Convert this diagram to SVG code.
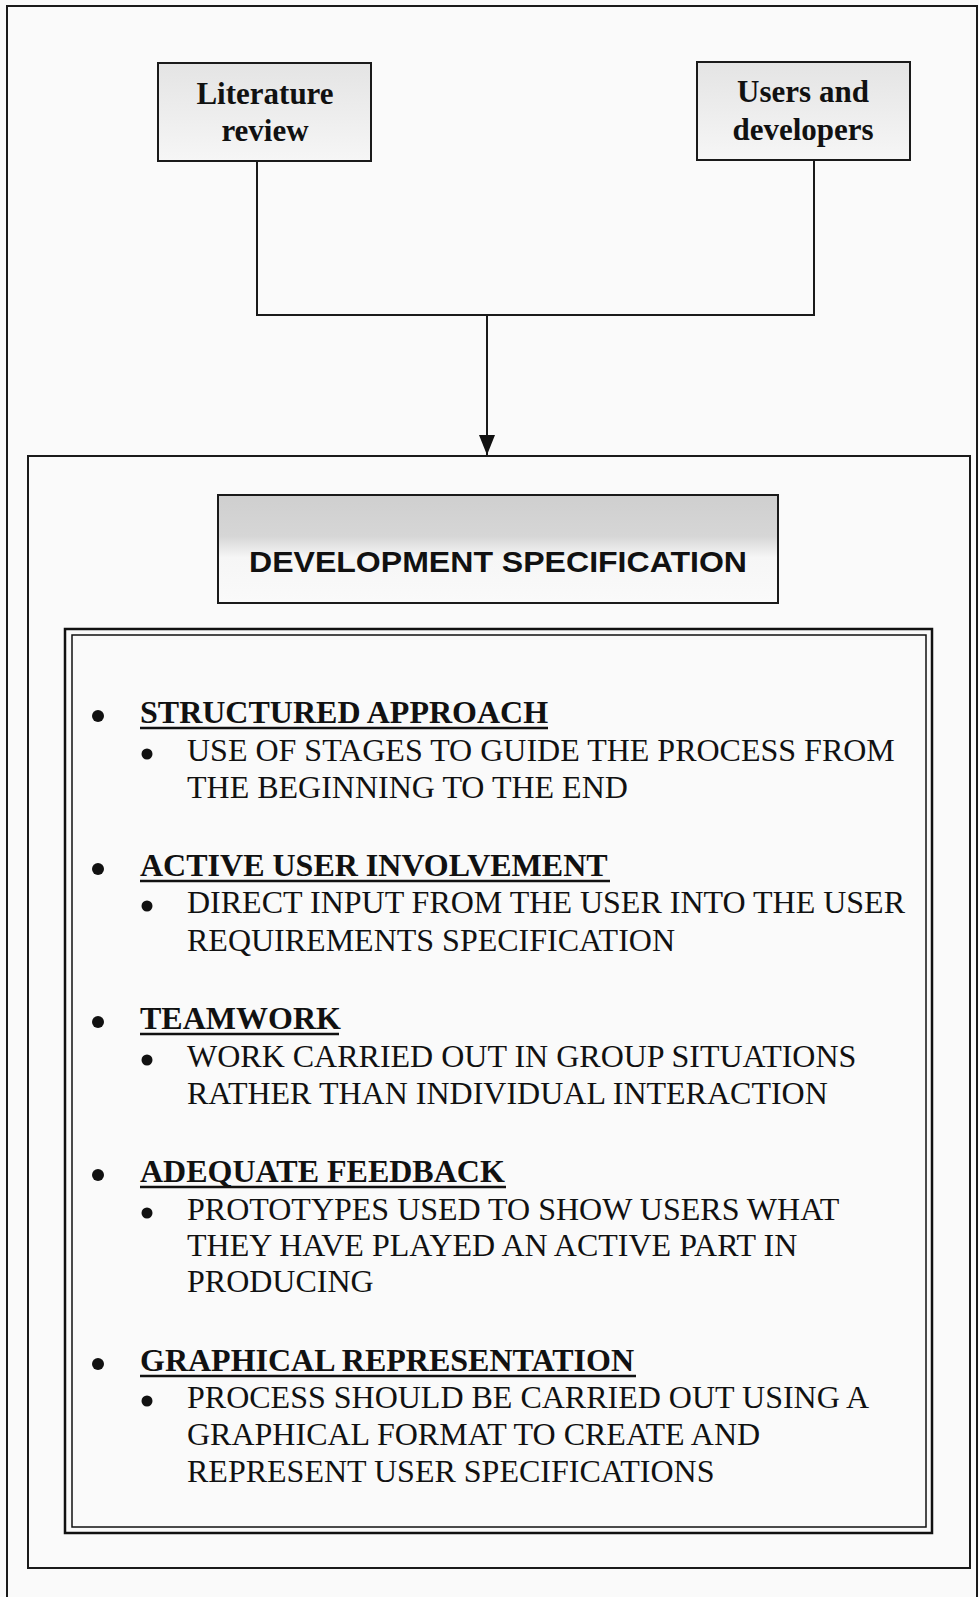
<svg xmlns="http://www.w3.org/2000/svg" width="979" height="1597" viewBox="0 0 979 1597">
  <defs>
    <linearGradient id="srcFill" x1="0" y1="0" x2="0" y2="1">
      <stop offset="0" stop-color="#e4e4e4"/>
      <stop offset="0.45" stop-color="#ececec"/>
      <stop offset="1" stop-color="#f6f6f6"/>
    </linearGradient>
    <linearGradient id="titleFill" x1="0" y1="0" x2="0" y2="1">
      <stop offset="0" stop-color="#cfcfcf"/>
      <stop offset="0.38" stop-color="#d6d6d6"/>
      <stop offset="0.58" stop-color="#f6f6f6"/>
      <stop offset="1" stop-color="#fafafa"/>
    </linearGradient>
    <marker id="arrow" viewBox="0 0 20 16" refX="20" refY="8" markerWidth="20" markerHeight="16" markerUnits="userSpaceOnUse" orient="auto">
      <path d="M0,0 L20,8 L0,16 Z" fill="#111"/>
    </marker>
  </defs>
  <style>
    .frame { fill: none; stroke: #1a1a1a; stroke-width: 2; }
    .box { stroke: #1a1a1a; stroke-width: 2; }
    .wire { fill: none; stroke: #1a1a1a; stroke-width: 2; }
    .src { font-family: "Liberation Serif", "Times New Roman", serif; font-weight: bold; font-size: 31px; fill: #111; text-anchor: middle; }
    .title { font-family: "Liberation Sans", Arial, sans-serif; font-weight: bold; font-size: 30px; fill: #111; text-anchor: middle; }
    .head { font-family: "Liberation Serif", "Times New Roman", serif; font-weight: bold; font-size: 32px; fill: #111; }
    .item { font-family: "Liberation Serif", "Times New Roman", serif; font-size: 32px; fill: #111; }
    .dot { fill: #111; }
    .ul { stroke: #111; stroke-width: 2.5; }
  </style>

  <!-- page background and outer frame -->
  <rect x="0" y="0" width="979" height="1597" fill="#fafafa"/>
  <rect class="frame" x="7" y="6" width="970" height="1600"/>

  <!-- source nodes -->
  <g id="literature-review">
    <rect class="box" x="158" y="63" width="213" height="98" fill="url(#srcFill)"/>
    <text class="src" x="265" y="104">Literature</text>
    <text class="src" x="265" y="141">review</text>
  </g>

  <g id="users-and-developers">
    <rect class="box" x="697" y="62" width="213" height="98" fill="url(#srcFill)"/>
    <text class="src" x="803" y="102">Users and</text>
    <text class="src" x="803" y="140">developers</text>
  </g>

  <!-- connectors -->
  <g id="connectors">
    <path class="wire" d="M257,161 V315 H814 V160"/>
    <path class="wire" d="M487,315 V455" marker-end="url(#arrow)"/>
  </g>

  <!-- development specification container -->
  <g id="development-specification">
    <rect class="frame" x="28" y="456" width="942" height="1112"/>
    <g id="spec-title">
      <rect class="box" x="218" y="495" width="560" height="108" fill="url(#titleFill)"/>
      <text class="title" x="498" y="572" textLength="498" lengthAdjust="spacingAndGlyphs">DEVELOPMENT SPECIFICATION</text>
    </g>

    <g id="spec-list">
      <!-- double border -->
      <rect x="65" y="629" width="867" height="904" fill="none" stroke="#111" stroke-width="2.5"/>
      <rect x="72" y="635" width="854" height="892" fill="none" stroke="#111" stroke-width="1.5"/>

      <!-- structured approach -->
      <g id="item-structured">
        <circle class="dot" cx="98" cy="716" r="6"/>
        <text class="head" x="140" y="723">STRUCTURED APPROACH</text>
        <line class="ul" x1="140" y1="728" x2="548" y2="728"/>
        <circle class="dot" cx="147" cy="754" r="5.5"/>
        <text class="item" x="187" y="761">USE OF STAGES TO GUIDE THE PROCESS FROM</text>
        <text class="item" x="187" y="798">THE BEGINNING TO THE END</text>
      </g>

      <!-- active user involvement -->
      <g id="item-involvement">
        <circle class="dot" cx="98" cy="869" r="6"/>
        <text class="head" x="140" y="876">ACTIVE USER INVOLVEMENT</text>
        <line class="ul" x1="140" y1="881" x2="610" y2="881"/>
        <circle class="dot" cx="147" cy="906" r="5.5"/>
        <text class="item" x="187" y="913">DIRECT INPUT FROM THE USER INTO THE USER</text>
        <text class="item" x="187" y="951">REQUIREMENTS SPECIFICATION</text>
      </g>

      <!-- teamwork -->
      <g id="item-teamwork">
        <circle class="dot" cx="98" cy="1022" r="6"/>
        <text class="head" x="140" y="1029">TEAMWORK</text>
        <line class="ul" x1="140" y1="1034" x2="339" y2="1034"/>
        <circle class="dot" cx="147" cy="1060" r="5.5"/>
        <text class="item" x="187" y="1067">WORK CARRIED OUT IN GROUP SITUATIONS</text>
        <text class="item" x="187" y="1104">RATHER THAN INDIVIDUAL INTERACTION</text>
      </g>

      <!-- adequate feedback -->
      <g id="item-feedback">
        <circle class="dot" cx="98" cy="1175" r="6"/>
        <text class="head" x="140" y="1182">ADEQUATE FEEDBACK</text>
        <line class="ul" x1="140" y1="1187" x2="506" y2="1187"/>
        <circle class="dot" cx="147" cy="1213" r="5.5"/>
        <text class="item" x="187" y="1220">PROTOTYPES USED TO SHOW USERS WHAT</text>
        <text class="item" x="187" y="1256">THEY HAVE PLAYED AN ACTIVE PART IN</text>
        <text class="item" x="187" y="1292">PRODUCING</text>
      </g>

      <!-- graphical representation -->
      <g id="item-graphical">
        <circle class="dot" cx="98" cy="1364" r="6"/>
        <text class="head" x="140" y="1371">GRAPHICAL REPRESENTATION</text>
        <line class="ul" x1="140" y1="1376" x2="636" y2="1376"/>
        <circle class="dot" cx="147" cy="1401" r="5.5"/>
        <text class="item" x="187" y="1408">PROCESS SHOULD BE CARRIED OUT USING A</text>
        <text class="item" x="187" y="1445">GRAPHICAL FORMAT TO CREATE AND</text>
        <text class="item" x="187" y="1482">REPRESENT USER SPECIFICATIONS</text>
      </g>
    </g>
  </g>
</svg>
